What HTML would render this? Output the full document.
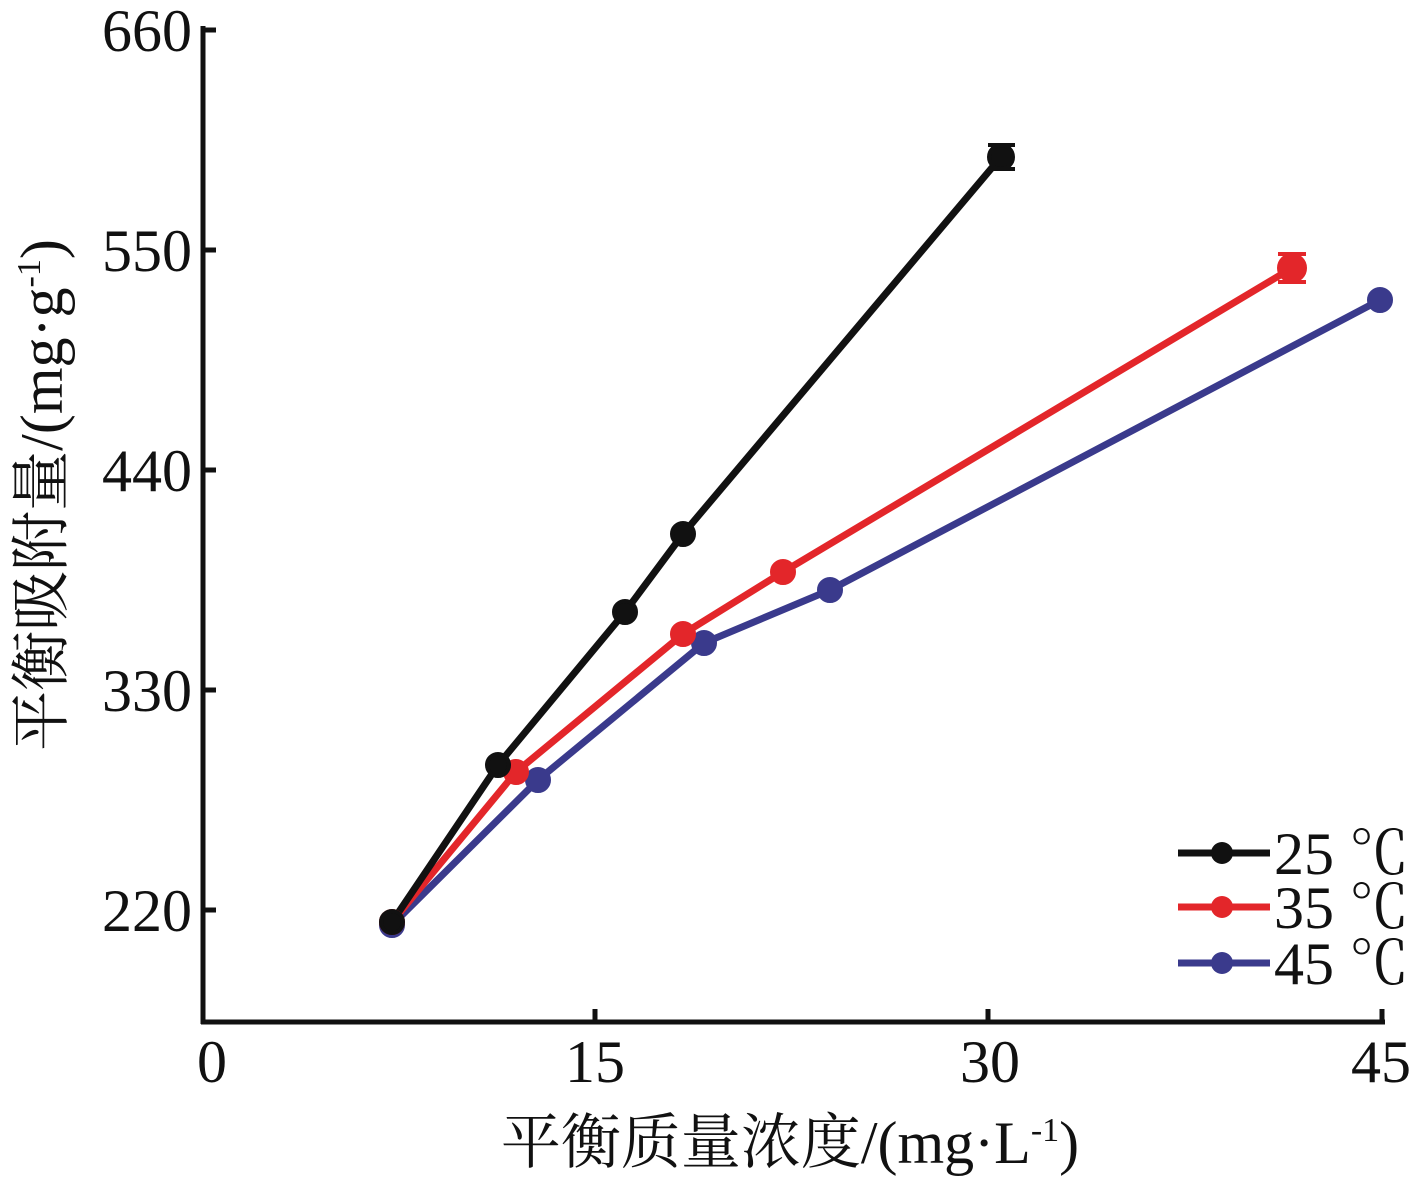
<!DOCTYPE html>
<html><head><meta charset="utf-8"><style>
html,body{margin:0;padding:0;background:#fff;}
svg text{font-family:"Liberation Serif","Noto Serif CJK SC",serif;fill:#111;}
</style></head><body>
<svg width="1417" height="1181" viewBox="0 0 1417 1181" xmlns="http://www.w3.org/2000/svg">
<g stroke="#111" stroke-width="5" fill="none">
<line x1="203" y1="26" x2="203" y2="1024"/>
<line x1="201" y1="1022" x2="1385" y2="1022"/>
<line x1="203" y1="30" x2="216" y2="30"/>
<line x1="203" y1="250" x2="216" y2="250"/>
<line x1="203" y1="470" x2="216" y2="470"/>
<line x1="203" y1="690" x2="216" y2="690"/>
<line x1="203" y1="910" x2="216" y2="910"/>
<line x1="595" y1="1022" x2="595" y2="1009"/>
<line x1="988" y1="1022" x2="988" y2="1009"/>
<line x1="1382" y1="1022" x2="1382" y2="1009"/>
</g>
<g font-size="60" text-anchor="end">
<text x="192" y="51">660</text>
<text x="192" y="271">550</text>
<text x="192" y="491">440</text>
<text x="192" y="711">330</text>
<text x="192" y="931">220</text>
</g>
<g font-size="60" text-anchor="middle">
<text x="212" y="1082">0</text>
<text x="595" y="1082">15</text>
<text x="990" y="1082">30</text>
<text x="1381" y="1082">45</text>
</g>
<text x="790" y="1163" font-size="60" text-anchor="middle">平衡质量浓度/(mg·L<tspan font-size="34" dy="-22">-1</tspan><tspan dy="22">)</tspan></text>
<text transform="translate(62,495) rotate(-90)" font-size="60" text-anchor="middle">平衡吸附量/(mg·g<tspan font-size="34" dy="-22">-1</tspan><tspan dy="22">)</tspan></text>
<g fill="none" stroke-width="7" stroke-linejoin="round">
<polyline stroke="#3a3a8c" points="392,925 538,780 704,643 830,590 1380,300"/>
<polyline stroke="#e3262a" points="392,922 516,772 683,634 783,572 1292,268"/>
<polyline stroke="#111" points="392,922 498,765 625,612 683,534 1001,157"/>
</g>
<g stroke-width="4">
<g fill="#3a3a8c" stroke="#3a3a8c">
<circle cx="392" cy="925" r="11"/><circle cx="538" cy="780" r="11"/><circle cx="704" cy="643" r="11"/><circle cx="830" cy="590" r="11"/><circle cx="1380" cy="300" r="11"/>
</g>
<g fill="#e3262a" stroke="#e3262a">
<circle cx="392" cy="922" r="11"/><circle cx="516" cy="772" r="11"/><circle cx="683" cy="634" r="11"/><circle cx="783" cy="572" r="11"/><circle cx="1292" cy="268" r="13"/>
<line x1="1278" y1="254" x2="1306" y2="254"/><line x1="1278" y1="282" x2="1306" y2="282"/>
</g>
<g fill="#111" stroke="#111">
<circle cx="392" cy="922" r="11"/><circle cx="498" cy="765" r="11"/><circle cx="625" cy="612" r="11"/><circle cx="683" cy="534" r="11"/><circle cx="1001" cy="157" r="12"/>
<line x1="988" y1="145" x2="1015" y2="145"/><line x1="988" y1="169" x2="1015" y2="169"/>
</g>
</g>
<g stroke-width="7">
<line x1="1178" y1="853" x2="1270" y2="853" stroke="#111"/>
<line x1="1178" y1="907" x2="1270" y2="907" stroke="#e3262a"/>
<line x1="1178" y1="963" x2="1270" y2="963" stroke="#3a3a8c"/>
</g>
<circle cx="1222" cy="853" r="11" fill="#111"/>
<circle cx="1222" cy="907" r="11" fill="#e3262a"/>
<circle cx="1222" cy="963" r="11" fill="#3a3a8c"/>
<g font-size="60">
<text x="1274" y="874">25 ℃</text>
<text x="1274" y="928">35 ℃</text>
<text x="1274" y="984">45 ℃</text>
</g>
</svg>
</body></html>
